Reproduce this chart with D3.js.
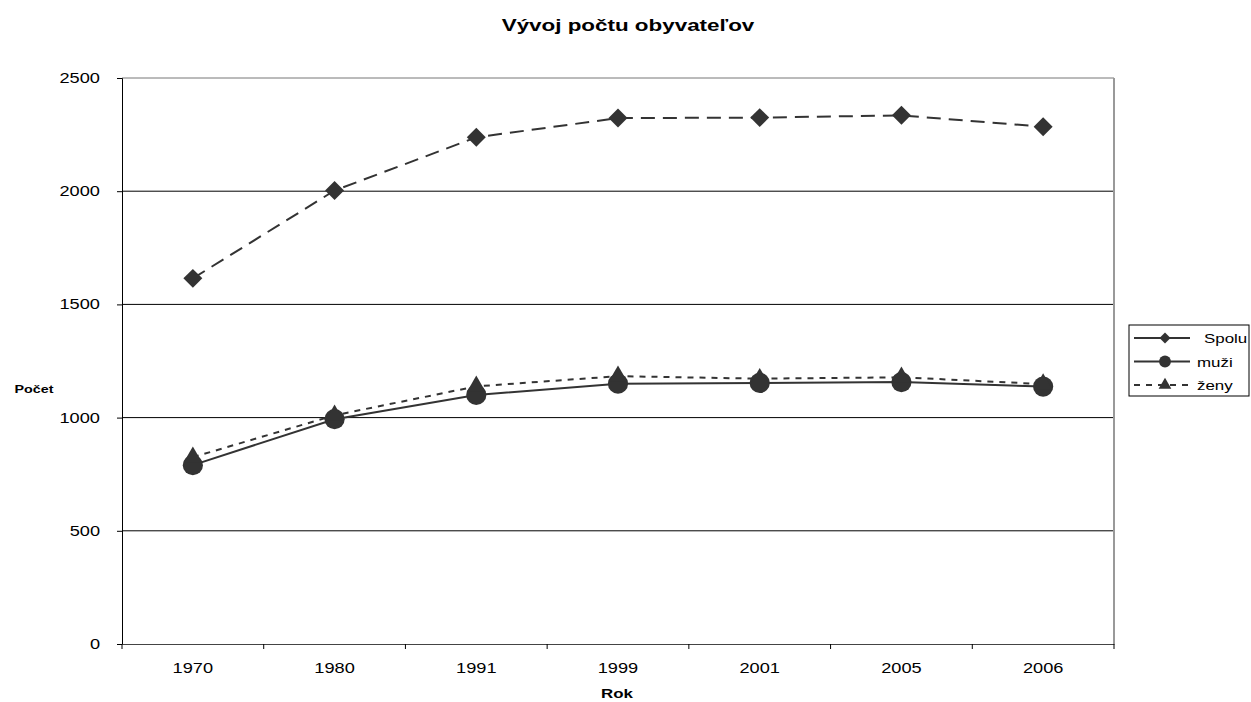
<!DOCTYPE html>
<html>
<head>
<meta charset="utf-8">
<script src="https://cdn.jsdelivr.net/npm/d3@7"></script>
<style>
  body { margin: 0; background: #fff; }
  text { font-family: "Liberation Sans", Arial, sans-serif; fill: #000; }
</style>
</head>
<body>
<div id="chart"></div>
<script>
let years = ["1970", "1980", "1991", "1999", "2001", "2005", "2006"]
let spolu = [1615, 2003, 2238, 2323, 2325, 2335, 2285]
let muzi = [790, 993, 1100, 1150, 1153, 1157, 1137]
let zeny = [825, 1010, 1138, 1183, 1172, 1178, 1148]
let yTicks = [0, 500, 1000, 1500, 2000, 2500]

let width = 1251, height = 702
let plot = {left: 122, right: 1114, top: 78, bottom: 644}

// the reference text is a bit stretched sideways, so widen glyphs a little
function widen(sel, stretch = 1.3) {
  sel.each(function() {
    let w = this.getComputedTextLength()
    d3.select(this).attr('textLength', w * stretch).attr('lengthAdjust', 'spacingAndGlyphs')
  })
}

let svg = d3.select('#chart').append('svg')
  .attr('width', width)
  .attr('height', height)

let x = d3.scaleBand().domain(years).range([plot.left, plot.right])
let y = d3.scaleLinear().domain([0, 2500]).range([plot.bottom, plot.top])

// gridlines
svg.append('g').selectAll('line')
  .data(yTicks.filter(d => d > 0))
  .enter().append('line')
  .attr('x1', plot.left).attr('x2', plot.right)
  .attr('y1', d => y(d)).attr('y2', d => y(d))
  .attr('stroke', d => d === 2500 ? '#777' : '#000')
  .attr('stroke-width', 1)

// plot right border
svg.append('line')
  .attr('x1', plot.right).attr('x2', plot.right)
  .attr('y1', plot.top).attr('y2', plot.bottom)
  .attr('stroke', '#999').attr('stroke-width', 2)

// y axis
let yAxis = svg.append('g')
  .attr('transform', `translate(${plot.left},0)`)
  .call(d3.axisLeft(y).tickValues(yTicks).tickFormat(d3.format('d')).tickSize(5).tickPadding(17))
yAxis.select('.domain').attr('stroke', '#000')
yAxis.selectAll('.tick line').attr('stroke', '#000')
yAxis.selectAll('text').style('font-size', '14px').call(widen)

// x axis, ticks at category boundaries
let xAxis = svg.append('g')
  .attr('transform', `translate(0,${plot.bottom})`)
  .call(d3.axisBottom(x).tickSize(0).tickPadding(19))
xAxis.select('.domain').attr('stroke', '#444')
xAxis.selectAll('text').style('font-size', '14px').call(widen)
xAxis.selectAll('.bound')
  .data(years.map(d => x(d)).concat([plot.right]))
  .enter().append('line')
  .attr('class', 'bound')
  .attr('x1', d => d).attr('x2', d => d)
  .attr('y1', 0).attr('y2', 5)
  .attr('stroke', '#000')

// titles
svg.append('text')
  .attr('x', 628).attr('y', 31)
  .attr('text-anchor', 'middle')
  .style('font-size', '16px').style('font-weight', 'bold')
  .text('Vývoj počtu obyvateľov')
  .call(widen, 1.4)

svg.append('text')
  .attr('x', 617).attr('y', 698)
  .attr('text-anchor', 'middle')
  .style('font-size', '13px').style('font-weight', 'bold')
  .text('Rok')
  .call(widen)

svg.append('text')
  .attr('x', 34).attr('y', 393)
  .attr('text-anchor', 'middle')
  .style('font-size', '11px').style('font-weight', 'bold')
  .text('Počet')
  .call(widen)

let color = '#333'
let series = [
  {name: 'Spolu', values: spolu, dash: '14,8', legendDash: null, marker: 'diamond', size: 180},
  {name: 'muži', values: muzi, dash: null, legendDash: null, marker: 'circle', size: 320},
  {name: 'ženy', values: zeny, dash: '6,6', legendDash: '6,6', marker: 'triangle', size: 150}
]
let symbols = {diamond: d3.symbolSquare, circle: d3.symbolCircle, triangle: d3.symbolTriangle}

let line = d3.line()
  .x((d, i) => x(years[i]) + x.bandwidth() / 2)
  .y(d => y(d))

series.forEach(s => {
  svg.append('path')
    .datum(s.values)
    .attr('d', line)
    .attr('fill', 'none')
    .attr('stroke', color)
    .attr('stroke-width', 2)
    .attr('stroke-dasharray', s.dash)
})

series.forEach(s => {
  svg.append('g').selectAll('path')
    .data(s.values)
    .enter().append('path')
    .attr('d', d3.symbol().type(symbols[s.marker]).size(s.size))
    .attr('transform', (d, i) => {
      let t = `translate(${x(years[i]) + x.bandwidth() / 2},${y(d)})`
      return s.marker === 'diamond' ? t + ' rotate(45)' : t
    })
    .attr('fill', color)
})

// legend
let legend = svg.append('g')
legend.append('rect')
  .attr('x', 1129).attr('y', 325)
  .attr('width', 120).attr('height', 71)
  .attr('fill', '#fff').attr('stroke', '#000').attr('stroke-width', 1)

let legendSizes = [60, 110, 70]
series.forEach((s, i) => {
  let ly = 338 + i * 23.5
  legend.append('line')
    .attr('x1', 1134).attr('x2', 1190)
    .attr('y1', ly).attr('y2', ly)
    .attr('stroke', color).attr('stroke-width', 2)
    .attr('stroke-dasharray', s.legendDash)
  legend.append('path')
    .attr('d', d3.symbol().type(symbols[s.marker]).size(legendSizes[i]))
    .attr('transform', `translate(1165,${ly})` + (s.marker === 'diamond' ? ' rotate(45)' : ''))
    .attr('fill', color)
  legend.append('text')
    .attr('x', i === 0 ? 1204 : 1197).attr('y', ly + 5)
    .style('font-size', '13px')
    .text(s.name)
    .call(widen)
})
</script>
</body>
</html>
